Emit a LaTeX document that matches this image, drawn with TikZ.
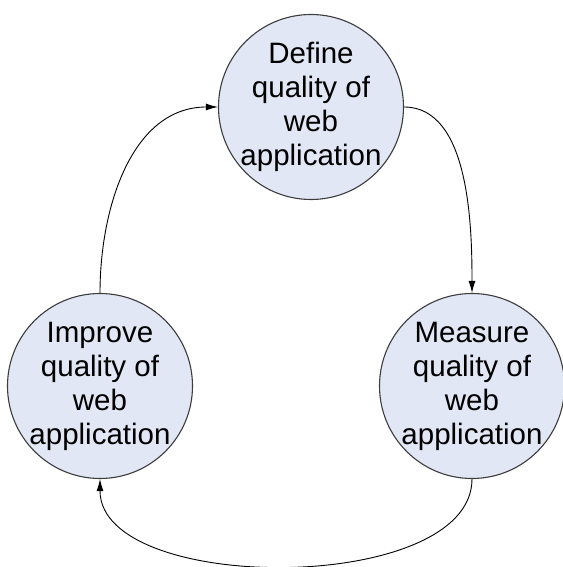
\documentclass[tikz,border=0pt]{standalone}
\usepackage{fontspec}
\setmainfont{Liberation Sans}
\usetikzlibrary{arrows.meta}
\definecolor{cfill}{RGB}{225,231,244}
\definecolor{cline}{RGB}{60,60,60}
\tikzset{
  stage/.style={circle, draw=cline, fill=cfill, line width=1.1pt, minimum size=185pt, inner sep=0pt},
  stagetext/.style={inner sep=0pt, align=center, font=\fontsize{29.5}{34}\selectfont},
  flow/.style={draw=black, line width=0.9pt, -{Latex[length=12pt,width=7pt]}}
}
\begin{document}
\begin{tikzpicture}[x=1pt,y=1pt]
\useasboundingbox (0,0) rectangle (562,567);
\node[stage] (T) at (311,460) {};
\node[stage] (L) at (100,181) {};
\node[stage] (R) at (472,181) {};
\node[stagetext] (Tt) at (T.center) {Define\\quality of\\web\\application};
\node[stagetext] (Lt) at (L.center) {Improve\\quality of\\web\\application};
\node[stagetext] (Rt) at (R.center) {Measure\\quality of\\web\\application};
\draw[flow] (L.north) to[out=90,in=180] (T.west);
\draw[flow] (T.east) to[out=0,in=90,looseness=0.85] (R.north);
\draw[flow] (R.south) to[out=-90,in=-90,looseness=0.8] (L.south);
\end{tikzpicture}
\end{document}
